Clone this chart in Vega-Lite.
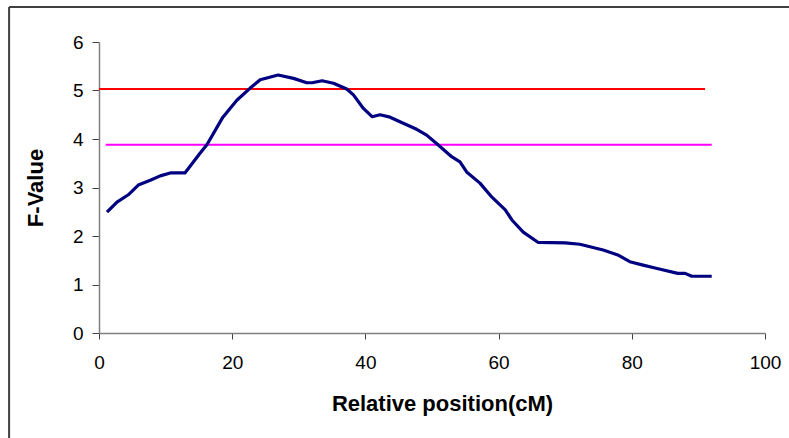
{
  "$schema": "https://vega.github.io/schema/vega-lite/v6.json",
  "width": 666,
  "height": 291,
  "autosize": "none",
  "padding": {"left": 99, "top": 42, "right": 24, "bottom": 105},
  "background": "white",
  "config": {"view": {"stroke": null}, "font": "Liberation Sans"},
  "datasets": {
    "fvalue": [
      {"pos": 1.2, "f": 2.49}, {"pos": 2.7, "f": 2.70}, {"pos": 4.4, "f": 2.85},
      {"pos": 5.9, "f": 3.05}, {"pos": 7.7, "f": 3.15}, {"pos": 9.2, "f": 3.24},
      {"pos": 10.7, "f": 3.30}, {"pos": 12.9, "f": 3.30}, {"pos": 15.2, "f": 3.71},
      {"pos": 16.2, "f": 3.88}, {"pos": 18.6, "f": 4.45}, {"pos": 20.7, "f": 4.80},
      {"pos": 22.7, "f": 5.05}, {"pos": 24.2, "f": 5.22}, {"pos": 26.9, "f": 5.32},
      {"pos": 29.2, "f": 5.25}, {"pos": 31.2, "f": 5.16}, {"pos": 32.0, "f": 5.16},
      {"pos": 33.5, "f": 5.20}, {"pos": 35.2, "f": 5.15}, {"pos": 37.2, "f": 5.03},
      {"pos": 38.2, "f": 4.91}, {"pos": 39.7, "f": 4.63}, {"pos": 41.0, "f": 4.46},
      {"pos": 42.2, "f": 4.50}, {"pos": 43.7, "f": 4.45}, {"pos": 45.6, "f": 4.33},
      {"pos": 47.7, "f": 4.20}, {"pos": 49.2, "f": 4.08}, {"pos": 50.9, "f": 3.88},
      {"pos": 53.0, "f": 3.63}, {"pos": 54.2, "f": 3.53}, {"pos": 55.2, "f": 3.32},
      {"pos": 57.2, "f": 3.09}, {"pos": 59.0, "f": 2.80}, {"pos": 61.0, "f": 2.54},
      {"pos": 62.0, "f": 2.33}, {"pos": 63.7, "f": 2.08}, {"pos": 65.9, "f": 1.87},
      {"pos": 70.0, "f": 1.86}, {"pos": 72.2, "f": 1.83}, {"pos": 75.7, "f": 1.71},
      {"pos": 77.9, "f": 1.61}, {"pos": 79.7, "f": 1.47}, {"pos": 81.7, "f": 1.40},
      {"pos": 83.8, "f": 1.33}, {"pos": 86.9, "f": 1.23}, {"pos": 88.0, "f": 1.23},
      {"pos": 89.0, "f": 1.17}, {"pos": 92.0, "f": 1.17}
    ],
    "thresholds": [
      {"level": "upper", "start": 0, "end": 91, "f": 5.03},
      {"level": "lower", "start": 1, "end": 92, "f": 3.88}
    ]
  },
  "layer": [
    {
      "data": {"name": "thresholds"},
      "mark": {"type": "rule", "strokeWidth": 2},
      "encoding": {
        "x": {"field": "start", "type": "quantitative", "scale": {"domain": [0, 100], "nice": false},
          "axis": {
            "values": [0, 20, 40, 60, 80, 100], "grid": false, "labelFlush": false, "labelOverlap": false,
            "domainColor": "#808080", "domainWidth": 1.5, "tickColor": "#404040", "tickSize": 6,
            "labelFontSize": 19, "labelColor": "#000000", "labelPadding": 14, "labelFont": "Liberation Sans",
            "title": "Relative position(cM)", "titleFontSize": 22, "titleFontWeight": "bold",
            "titleColor": "#000000", "titleFont": "Liberation Sans",
            "titleX": 343, "titleY": 77, "titleBaseline": "alphabetic", "titleAlign": "center"
          }},
        "x2": {"field": "end"},
        "y": {"field": "f", "type": "quantitative", "scale": {"domain": [0, 6], "nice": false},
          "axis": {
            "values": [0, 1, 2, 3, 4, 5, 6], "grid": false, "labelFlush": false, "labelOverlap": false,
            "domainColor": "#808080", "domainWidth": 1.5, "tickColor": "#404040", "tickSize": 7,
            "labelFontSize": 19, "labelColor": "#000000", "labelPadding": 9, "labelFont": "Liberation Sans",
            "title": "F-Value", "titleFontSize": 22, "titleFontWeight": "bold",
            "titleColor": "#000000", "titleFont": "Liberation Sans",
            "titleX": -64, "titleY": 145.5, "titleBaseline": "middle", "titleAlign": "center", "titleAngle": -90
          }},
        "color": {"field": "level", "type": "nominal", "scale": {"domain": ["upper", "lower"], "range": ["#FF0000", "#FF00FF"]}, "legend": null}
      }
    },
    {
      "data": {"name": "fvalue"},
      "mark": {"type": "line", "color": "#000080", "strokeWidth": 3.2, "strokeJoin": "round"},
      "encoding": {
        "x": {"field": "pos", "type": "quantitative"},
        "y": {"field": "f", "type": "quantitative"}
      }
    },
    {
      "data": {"values": [{}]},
      "mark": {"type": "rule", "color": "#404040", "strokeWidth": 2},
      "encoding": {
        "x": {"datum": -13.5, "type": "quantitative"},
        "y": {"datum": 6.72, "type": "quantitative"},
        "y2": {"datum": -2.6}
      }
    },
    {
      "data": {"values": [{}]},
      "mark": {"type": "rule", "color": "#404040", "strokeWidth": 2},
      "encoding": {
        "y": {"datum": 6.72, "type": "quantitative"},
        "x": {"datum": -13.5, "type": "quantitative"},
        "x2": {"datum": 106}
      }
    }
  ]
}
